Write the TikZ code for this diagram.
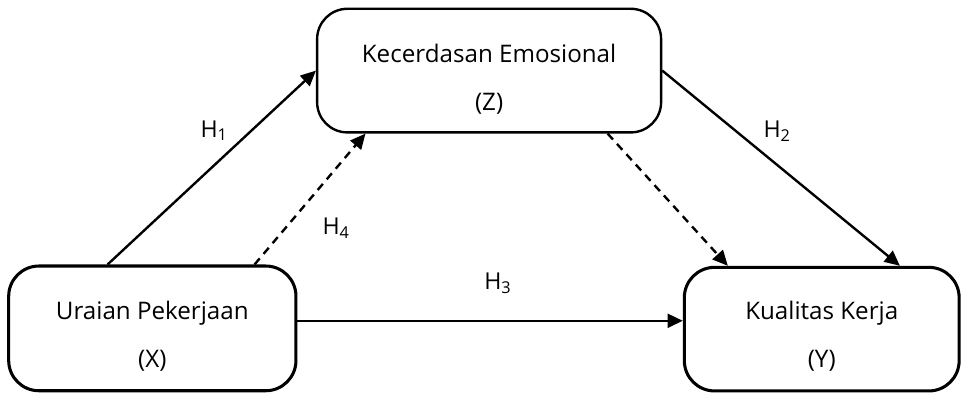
\documentclass[tikz,border=0pt]{standalone}
\usepackage{fontspec}
\setmainfont{Open Sans}
\usetikzlibrary{arrows.meta}
\usetikzlibrary{positioning}
\tikzset{var/.style={draw,rounded corners=0.8cm,line width=2.3pt},
  vtext/.style={align=center,font=\fontsize{18.2}{36}\selectfont},
  hlab/.style={font=\fontsize{17.5}{18}\selectfont},
  path/.style={line width=1.8pt,-{Triangle[length=11.5pt,width=10.5pt]}}}

\begin{document}
\begin{tikzpicture}
\useasboundingbox (0,0) rectangle (25.53cm,10.478cm);
\node (Z) at (12.94cm,8.61cm) [var,line width=1.8pt,minimum width=9.1cm, minimum height=3.27cm] {};
\node (X) at (4.03cm,1.79cm) [var,minimum width=7.6cm, minimum height=3.3cm] {};
\node (Y) at (21.74cm,1.77cm) [var,minimum width=7.27cm, minimum height=3.27cm] {};

\node (Ztext) at (12.94cm,8.39cm) [vtext] {Kecerdasan Emosional\\(Z)};
\node (Xtext) at (4.03cm,1.59cm) [vtext] {Uraian Pekerjaan\\(X)};
\node (Ytext) at (21.74cm,1.59cm) [vtext] {Kualitas Kerja\\(Y)};

\draw [path] (X.125) -- (Z.west) node (h1) [hlab,pos=0.69,xshift=-28pt] {H\textsubscript{1}};
\draw [path] (Z.east) -- (Y.39.5) node (h2) [hlab,pos=0.31,xshift=31pt] {H\textsubscript{2}};
\draw [path] (X.3.4) -- (X.3.4 -| Y.west) node (h3) [hlab,pos=0.52,yshift=28pt] {H\textsubscript{3}};
\draw [path,dash pattern=on 6pt off 4.5pt] (X.32.5) -- (Z.207.3) node (h4) [hlab,pos=0.28,xshift=38pt] {H\textsubscript{4}};
\draw [path,dash pattern=on 6pt off 4.5pt] (Z.332.3) -- (Y.146.3);
\end{tikzpicture}
\end{document}
